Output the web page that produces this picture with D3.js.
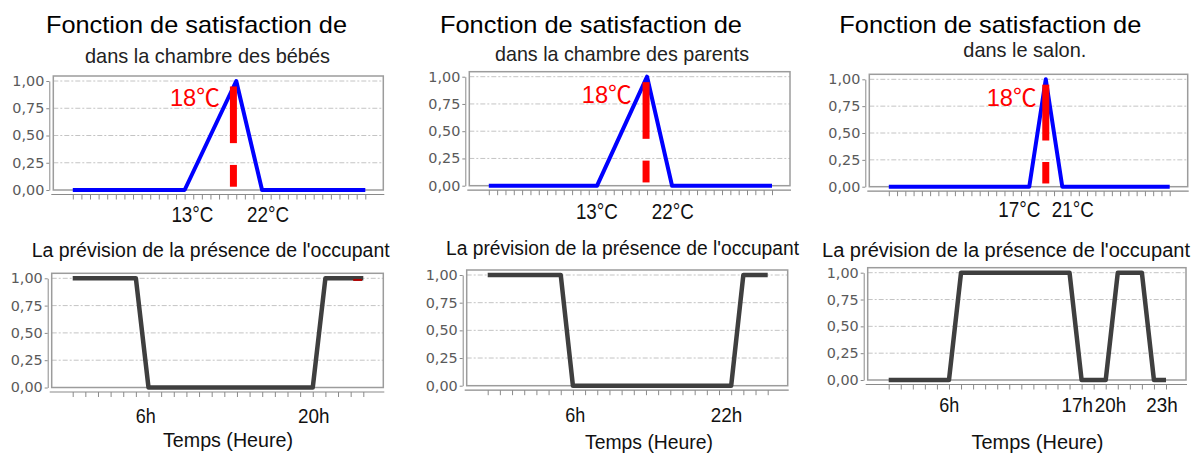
<!DOCTYPE html>
<html><head><meta charset="utf-8">
<script src="https://cdn.jsdelivr.net/npm/d3@7"></script>
<style>body{margin:0;background:#fff;} svg{display:block;}</style>
</head><body>
<svg id="c" width="1200" height="453"></svg>
<script>
// ---------------- data ----------------
const titleLine1 = "Fonction de satisfaction de";
const roomLabels = ["dans la chambre des bébés", "dans la chambre des parents", "dans le salon."];
const presenceTitle = "La prévision de la présence de l'occupant";
const timeAxisTitle = "Temps (Heure)";
const yTicks = [0, 0.25, 0.5, 0.75, 1];
const tempIndexMax = 34;   // temperature axis: 35 tick positions
const hourIndexMax = 23;   // hour axis: 24 tick positions

// satisfaction functions (breakpoints: [axis position, satisfaction])
const satBebes   = [[0,0],[13,0],[19,1],[22,0],[34,0]];
const satParents = [[0,0],[13,0],[19,1],[22,0],[34,0]];
const satSalon   = [[0,0],[17,0],[19,1],[21,0],[34,0]];

const setpointLabel = "18℃";
const setpointX = [18.67, 18.88, 19.0];
const setpointDashes = [[0.95, 0.43], [0.23, 0.03]];
const setpointLabelPos = [[17.1, 0.77], [17.16, 0.755], [17.9, 0.75]];
const tempTickLabels = [["13°C","22°C"], ["13°C","22°C"], ["17°C","21°C"]];
const tempTickPos    = [[13.9, 22.7], [12.98, 22.09], [15.8, 22.28]];

// occupancy forecasts, one value per hour 0..23
const presenceBebes   = [1,1,1,1,1,1,0,0,0,0,0,0,0,0,0,0,0,0,0,0,1,1,1,1];
const presenceParents = [1,1,1,1,1,1,1,0,0,0,0,0,0,0,0,0,0,0,0,0,0,1,1,1];
const presenceSalon   = [0,0,0,0,0,0,1,1,1,1,1,1,1,1,1,1,0,0,0,1,1,1,0,0];
const hourTickLabels = [["6h","20h"], ["6h","22h"], ["6h","17h","20h","23h"]];
const hourTickPos    = [[5.78, 19.07], [7.2, 19.62], [5.03, 15.64, 18.39, 22.66]];
const residualTrace  = [[22.2, 0.985], [22.9, 0.985]]; // small red trace, panel 1

const satSeries = [satBebes, satParents, satSalon];
const presSeries = [presenceBebes, presenceParents, presenceSalon];

// ---------------- layout ----------------
const cols = [
  {title:{x:46, y:33, w:301}, sub:{x:85, y:63, w:245},
   top:{l:53.3, t:76, r:383.3, b:190}, bot:{l:51.7, t:273.3, r:383.3, b:387.5},
   tLabY:221.7, hLabY:423.3, ptitle:{x:31.7, y:256.7, w:358}, ttl:{cx:228, y:446.7, w:130}},
  {title:{x:440, y:33, w:302}, sub:{x:495, y:61, w:254},
   top:{l:469.3, t:71.7, r:790, b:185.7}, bot:{l:466.7, t:270, r:787.7, b:385.7},
   tLabY:219, hLabY:421.7, ptitle:{x:446, y:255, w:353}, ttl:{cx:649, y:448.5, w:128}},
  {title:{x:839.3, y:33.3, w:302}, sub:{x:963.3, y:56.7, w:123},
   top:{l:869.3, t:74.3, r:1187.7, b:186.7}, bot:{l:867.7, t:267.7, r:1186, b:380},
   tLabY:217.3, hLabY:411.7, ptitle:{x:822, y:256.7, w:368}, ttl:{cx:1037.5, y:448.5, w:132}}
];

const svg = d3.select("#c");
const SANS = "'Liberation Sans', Arial, sans-serif";

function txt(g, s, x, y, size, o = {}) {
  const t = g.append("text").attr("x", x).attr("y", y).text(s)
    .attr("font-family", o.family || SANS).attr("font-size", size)
    .attr("fill", o.fill || "#000").attr("text-anchor", o.anchor || "start");
  if (o.w) t.attr("textLength", o.w).attr("lengthAdjust", "spacingAndGlyphs");
  return t;
}

const fmt = d => d3.format(".2f")(d).replace(".", ",");

function panel(g, box, xDomainMax, insetL, insetR) {
  const x = d3.scaleLinear().domain([0, xDomainMax]).range([box.l + insetL, box.r - insetR]);
  const y = d3.scaleLinear().domain([0, 1]).range([box.b, box.t + 5]);
  g.append("g").selectAll("line").data(yTicks.filter(d => d > 0)).join("line")
    .attr("x1", box.l).attr("x2", box.r).attr("y1", d => y(d)).attr("y2", d => y(d))
    .attr("stroke", "#c4c4c4").attr("stroke-width", 1).attr("stroke-dasharray", "5,2,2,2");
  g.append("rect").attr("x", box.l).attr("y", box.t).attr("width", box.r - box.l)
    .attr("height", box.b - box.t).attr("fill", "none").attr("stroke", "#9c9c9c").attr("stroke-width", 1.5);
  const ya = g.append("g").attr("transform", `translate(${box.l - 4},0)`)
    .call(d3.axisLeft(y).tickValues(yTicks).tickFormat(fmt).tickSize(3).tickSizeOuter(0).tickPadding(2));
  ya.select(".domain").attr("stroke", "#8a8a8a");
  ya.selectAll(".tick line").attr("stroke", "#8a8a8a");
  ya.selectAll(".tick text").attr("font-family", "'DejaVu Sans', sans-serif").attr("font-size", 14)
    .attr("fill", "#5a5a5a").attr("textLength", 32).attr("lengthAdjust", "spacingAndGlyphs");
  const axY = box.b + 4.5;
  const xa = g.append("g").attr("transform", `translate(0,${axY})`)
    .call(d3.axisBottom(x).tickValues(d3.range(0, xDomainMax + 1)).tickFormat("").tickSize(5).tickSizeOuter(0));
  xa.select(".domain").remove();
  xa.selectAll(".tick line").attr("stroke", "#8a8a8a");
  g.append("line").attr("x1", box.l - 2).attr("x2", box.r + 1).attr("y1", axY).attr("y2", axY)
    .attr("stroke", "#8a8a8a").attr("stroke-width", 1.2);
  return {x, y};
}

cols.forEach((c, i) => {
  const g = svg.append("g");
  txt(g, titleLine1, c.title.x, c.title.y, 24, {w: c.title.w});
  txt(g, roomLabels[i], c.sub.x, c.sub.y, 21, {w: c.sub.w, fill: "#222"});

  // ---- satisfaction chart ----
  const s = panel(g, c.top, tempIndexMax, 19.5, 18);
  g.append("path").datum(satSeries[i])
    .attr("d", d3.line().x(d => s.x(d[0])).y(d => s.y(d[1])))
    .attr("fill", "none").attr("stroke", "#0000ff").attr("stroke-width", 4).attr("stroke-linejoin", "round");
  g.append("g").selectAll("line").data(setpointDashes).join("line")
    .attr("x1", s.x(setpointX[i])).attr("x2", s.x(setpointX[i]))
    .attr("y1", d => s.y(d[0])).attr("y2", d => s.y(d[1]))
    .attr("stroke", "#ff0000").attr("stroke-width", 7);
  txt(g, setpointLabel, s.x(setpointLabelPos[i][0]), s.y(setpointLabelPos[i][1]), 24,
      {fill: "#ff0000", anchor: "end", w: 50, family: "'Liberation Sans', 'Noto Sans CJK SC', sans-serif"});
  tempTickLabels[i].forEach((lab, k) => {
    txt(g, lab, s.x(tempTickPos[i][k]), c.tLabY, 22, {anchor: "middle", w: 42, fill: "#111"});
  });

  // ---- presence chart ----
  txt(g, presenceTitle, c.ptitle.x, c.ptitle.y, 20, {w: c.ptitle.w, fill: "#111"});
  const p = panel(g, c.bot, hourIndexMax, 21, 20);
  g.append("path").datum(presSeries[i])
    .attr("d", d3.line().x((d, h) => p.x(h)).y(d => p.y(d)))
    .attr("fill", "none").attr("stroke", "#3f3f3f").attr("stroke-width", 4.5).attr("stroke-linejoin", "round");
  if (i === 0) {
    g.append("path").datum(residualTrace)
      .attr("d", d3.line().x(d => p.x(d[0])).y(d => p.y(d[1])))
      .attr("stroke", "#b00000").attr("stroke-width", 2);
  }
  hourTickLabels[i].forEach((lab, k) => {
    txt(g, lab, p.x(hourTickPos[i][k]), c.hLabY, 21, {anchor: "middle", w: lab.length === 2 ? 20 : 31.5, fill: "#111"});
  });
  txt(g, timeAxisTitle, c.ttl.cx, c.ttl.y, 21, {anchor: "middle", w: c.ttl.w, fill: "#111"});
});
</script>
</body></html>
